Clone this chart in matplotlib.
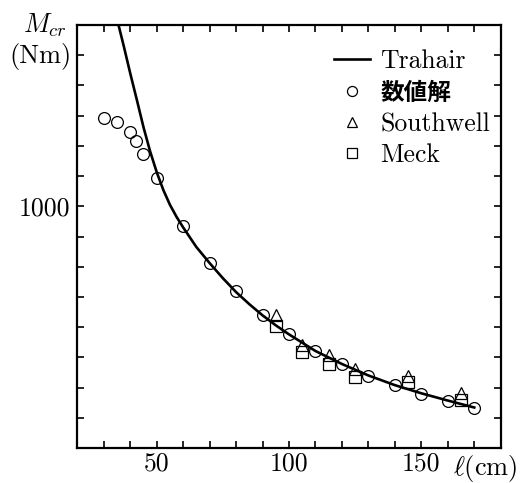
import matplotlib
matplotlib.use("Agg")
import matplotlib.pyplot as plt
from matplotlib.ticker import MultipleLocator, FixedLocator, FixedFormatter

plt.rcParams['mathtext.fontset'] = 'cm'
plt.rcParams['font.family'] = ['cmr10', 'DejaVu Serif']

# Trahair theoretical curve
trahair_l = [35, 37.5, 40, 42.5, 45, 47.5, 50, 52.5, 55, 57.5, 60, 65, 70, 75, 80,
             85, 90, 95, 100, 110, 120, 130, 140, 150, 160, 170]
trahair_m = [1620, 1532, 1440, 1352, 1262, 1182, 1113, 1054, 1005, 965, 930, 865, 812,
             762, 716, 676, 639, 606, 576, 521, 478, 440, 408, 381, 357, 334]

# numerical solution
num_l = [30, 35, 40, 42, 45, 50, 60, 70, 80, 90, 100, 110, 120, 130, 140, 150, 160, 170]
num_m = [1291, 1278, 1245, 1217, 1173, 1093, 936, 813, 720, 640, 576, 521, 478, 438,
         408, 378, 356, 333]

# Southwell and Meck
sw_l = [95, 105, 115, 125, 145, 165]
sw_m = [640, 541, 508, 460, 438, 381]
meck_l = [95, 105, 115, 125, 145, 165]
meck_m = [605, 519, 478, 436, 417, 359]

fig = plt.figure(figsize=(5.2, 4.83), dpi=100)
ax = fig.add_axes([0.1487, 0.0725, 0.8142, 0.8757])

ax.plot(trahair_l, trahair_m, color='black', lw=1.9, label='Trahair', zorder=3)
ax.plot(num_l, num_m, ls='none', marker='o', ms=8.5, mfc='none', mec='black',
        mew=0.9, label='数値解', zorder=4)
ax.plot(sw_l, sw_m, ls='none', marker='^', ms=8, mfc='none', mec='black',
        mew=0.9, label='Southwell', zorder=4)
ax.plot(meck_l, meck_m, ls='none', marker='s', ms=8, mfc='none', mec='black',
        mew=0.9, label='Meck', zorder=4)

ax.set_xlim(20, 180)
ax.set_ylim(200, 1600)

ax.xaxis.set_major_locator(FixedLocator([50, 100, 150]))
ax.xaxis.set_minor_locator(MultipleLocator(10))
ax.yaxis.set_major_locator(FixedLocator([1000]))
ax.yaxis.set_minor_locator(MultipleLocator(100))
ax.xaxis.set_major_formatter(FixedFormatter(['50', '100', '150']))
ax.yaxis.set_major_formatter(FixedFormatter(['1000']))

for side in ['top', 'bottom', 'left', 'right']:
    ax.spines[side].set_linewidth(1.6)
ax.tick_params(which='both', direction='in', top=True, right=True,
               length=5, width=1.2, labelsize=18.5)
ax.tick_params(axis='x', pad=3)
ax.tick_params(axis='y', pad=5)

fig.text(0.129, 0.932, r'$M_{cr}$', fontsize=19, ha='right', va='baseline')
fig.text(0.138, 0.870, '(Nm)', fontsize=19, ha='right', va='baseline')
fig.text(0.996, 0.0166, r'$\ell$(cm)', fontsize=19, ha='right', va='baseline')

leg = ax.legend(loc='upper right', bbox_to_anchor=(0.975, 0.943), frameon=False,
                fontsize=18.5, handlelength=1.4, handletextpad=0.4,
                labelspacing=0.3, borderaxespad=0, borderpad=0, markerscale=0.85)
for t in leg.get_texts():
    if t.get_text() == '数値解':
        t.set_fontfamily(['Noto Sans CJK JP', 'DejaVu Sans'])
        t.set_fontweight('bold')
        t.set_fontsize(17)

fig.savefig('out.png', dpi=100)
